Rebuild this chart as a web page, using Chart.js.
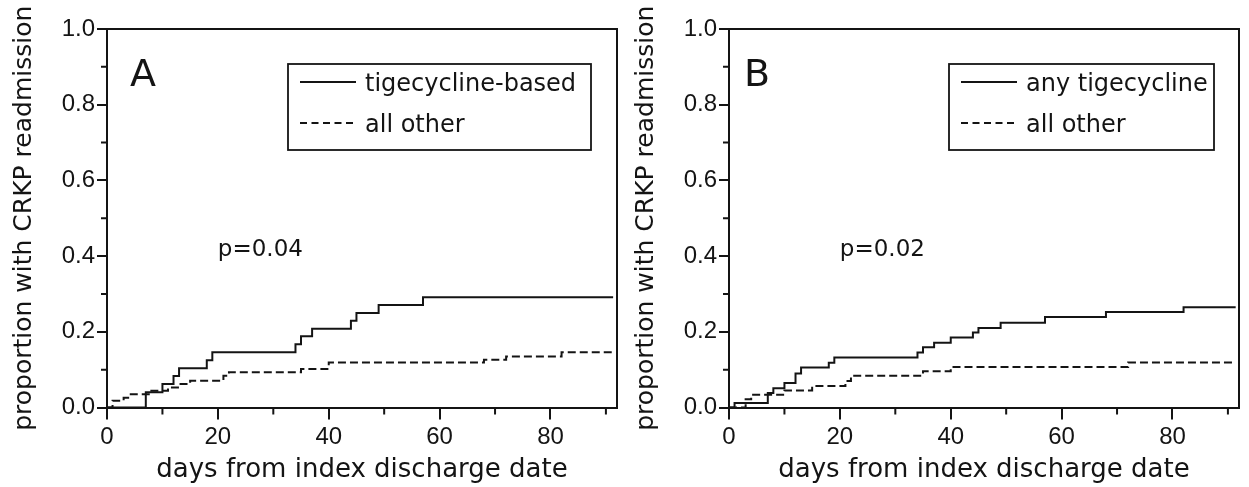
<!DOCTYPE html>
<html><head><meta charset="utf-8">
<script src="https://cdn.jsdelivr.net/npm/chart.js@4.4.0/dist/chart.umd.min.js"></script>
<style>
html,body{margin:0;padding:0;background:#fff;}
#wrap{position:relative;width:1249px;height:487px;overflow:hidden;background:#fff;}
.panel{position:absolute;top:0;width:624px;height:487px;}
</style></head><body>
<div id="wrap">
<div class="panel" style="left:0"><canvas id="cA" width="624" height="487"></canvas></div>
<div class="panel" style="left:622px"><canvas id="cB" width="624" height="487"></canvas></div>
</div>
<script>
// ---- data ----
const xTickValues = [0, 20, 40, 60, 80];
const xMinorTicks = [10, 30, 50, 70, 90];
const yTickValues = [0, 0.2, 0.4, 0.6, 0.8, 1.0];
const yMinorTicks = [0.1, 0.3, 0.5, 0.7, 0.9];

const panelLetters = ['A', 'B'];
const pValueTexts = ['p=0.04', 'p=0.02'];
const aSeriesNames = ['tigecycline-based', 'all other'];
const bSeriesNames = ['any tigecycline', 'all other'];

const aTigDays     = [0, 7, 10, 12, 13, 18, 19, 34, 35, 37, 44, 45, 49, 57, 91.3];
const aTigValues   = [0, 0.040, 0.062, 0.083, 0.104, 0.125, 0.146, 0.167, 0.188, 0.208, 0.229, 0.250, 0.271, 0.291, 0.291];
const aOtherDays   = [0, 1, 3, 4, 8, 11, 13, 15, 21, 22, 35, 40, 68, 72, 82, 91.3];
const aOtherValues = [0, 0.018, 0.026, 0.035, 0.044, 0.053, 0.062, 0.071, 0.084, 0.093, 0.102, 0.119, 0.126, 0.135, 0.146, 0.146];

const bTigDays     = [0, 1, 7, 8, 10, 12, 13, 18, 19, 34, 35, 37, 40, 44, 45, 49, 57, 68, 82, 91.4];
const bTigValues   = [0, 0.012, 0.038, 0.051, 0.065, 0.090, 0.106, 0.118, 0.132, 0.145, 0.159, 0.171, 0.185, 0.198, 0.210, 0.224, 0.239, 0.252, 0.265, 0.265];
const bOtherDays   = [0, 3, 4, 10, 15, 21, 22, 35, 40, 72, 91.4];
const bOtherValues = [0, 0.022, 0.034, 0.045, 0.057, 0.070, 0.084, 0.096, 0.107, 0.119, 0.119];

// ---- helpers ----
const INK = '#141414';
const TEXT_FONT = '"DejaVu Sans", sans-serif';
const TICK_FONT = '"Liberation Sans", Arial, sans-serif';
const DASH = [8, 4];

function pts(days, vals) { return days.map((d, i) => ({x: d, y: vals[i]})); }

const decorPlugin = {
  id: 'decor',
  afterDraw(chart, args, o) {
    const {ctx, chartArea: ca, scales: {x, y}} = chart;
    ctx.save();
    ctx.strokeStyle = INK; ctx.lineWidth = 2; ctx.setLineDash([]);
    // frame top and right
    ctx.beginPath();
    ctx.moveTo(ca.left - 1, ca.top); ctx.lineTo(ca.right, ca.top); ctx.lineTo(ca.right, ca.bottom + 1);
    ctx.stroke();
    // minor ticks
    ctx.beginPath();
    xMinorTicks.forEach(v => { const px = x.getPixelForValue(v); ctx.moveTo(px, ca.bottom); ctx.lineTo(px, ca.bottom + 7); });
    yMinorTicks.forEach(v => { const py = y.getPixelForValue(v); ctx.moveTo(ca.left, py); ctx.lineTo(ca.left - 6, py); });
    ctx.stroke();
    // panel letter
    ctx.fillStyle = INK;
    ctx.textBaseline = 'alphabetic'; ctx.textAlign = 'left';
    ctx.font = '38px ' + TEXT_FONT;
    ctx.fillText(o.letter, ca.left + o.letterDx, ca.top + 57);
    // p value
    ctx.font = '23px ' + TEXT_FONT;
    ctx.fillText(o.pText, x.getPixelForValue(20), y.getPixelForValue(0.4));
    // legend
    const bl = ca.left + o.boxLeft, br = ca.right - o.boxRight, bt = ca.top + 35, bh = 86;
    ctx.lineWidth = 1.8;
    ctx.strokeRect(bl, bt, br - bl, bh);
    const rows = [{y: bt + 18, dash: []}, {y: bt + 59, dash: [7, 4.5]}];
    ctx.font = '24px ' + TEXT_FONT;
    rows.forEach((r, i) => {
      ctx.lineWidth = 2; ctx.setLineDash(r.dash);
      ctx.beginPath(); ctx.moveTo(bl + 12, r.y); ctx.lineTo(bl + 68, r.y); ctx.stroke();
      ctx.setLineDash([]);
      ctx.fillText(o.names[i], bl + 77, r.y + 9);
    });
    ctx.restore();
  }
};

function makeChart(id, tigD, tigV, othD, othV, names, letter, pText, letterDx, boxLeft, boxRight) {
  return new Chart(document.getElementById(id), {
    type: 'line',
    data: {
      datasets: [
        {label: names[0], data: pts(tigD, tigV), stepped: true, borderColor: INK, borderWidth: 2, pointRadius: 0, fill: false},
        {label: names[1], data: pts(othD, othV), stepped: true, borderColor: INK, borderWidth: 2, borderDash: DASH, pointRadius: 0, fill: false}
      ]
    },
    options: {
      responsive: false, animation: false, devicePixelRatio: 1,
      layout: {padding: {left: 0, right: 7, top: 29, bottom: 0}},
      plugins: {
        legend: {display: false}, tooltip: {enabled: false},
        decor: {letter, pText, names, letterDx, boxLeft, boxRight}
      },
      scales: {
        x: {
          type: 'linear', min: 0, max: 92,
          afterBuildTicks: s => { s.ticks = xTickValues.map(v => ({value: v})); },
          afterFit: s => { s.height = 79.5; },
          ticks: {color: INK, font: {family: TICK_FONT, size: 24}, padding: 3, maxRotation: 0, autoSkip: false},
          grid: {drawOnChartArea: false, drawTicks: true, tickLength: 12, color: INK, lineWidth: 2},
          border: {display: true, color: INK, width: 2},
          title: {display: true, text: 'days from index discharge date', color: INK,
                  font: {family: TEXT_FONT, size: 26}, padding: {top: 0, bottom: 1}}
        },
        y: {
          type: 'linear', min: 0, max: 1,
          afterBuildTicks: s => { s.ticks = yTickValues.map(v => ({value: v})); },
          afterFit: s => { s.width = 107; },
          ticks: {color: INK, font: {family: TICK_FONT, size: 24}, padding: 2,
                  callback: v => Number(v).toFixed(1)},
          grid: {drawOnChartArea: false, drawTicks: true, tickLength: 10, color: INK, lineWidth: 2},
          border: {display: true, color: INK, width: 2},
          title: {display: true, text: 'proportion with CRKP readmission', color: INK,
                  font: {family: TEXT_FONT, size: 25}, padding: {top: 9, bottom: 0}}
        }
      }
    },
    plugins: [decorPlugin]
  });
}

makeChart('cA', aTigDays, aTigValues, aOtherDays, aOtherValues, aSeriesNames, panelLetters[0], pValueTexts[0], 23, 181, 26);
makeChart('cB', bTigDays, bTigValues, bOtherDays, bOtherValues, bSeriesNames, panelLetters[1], pValueTexts[1], 15, 220, 25);
</script>
</body></html>
